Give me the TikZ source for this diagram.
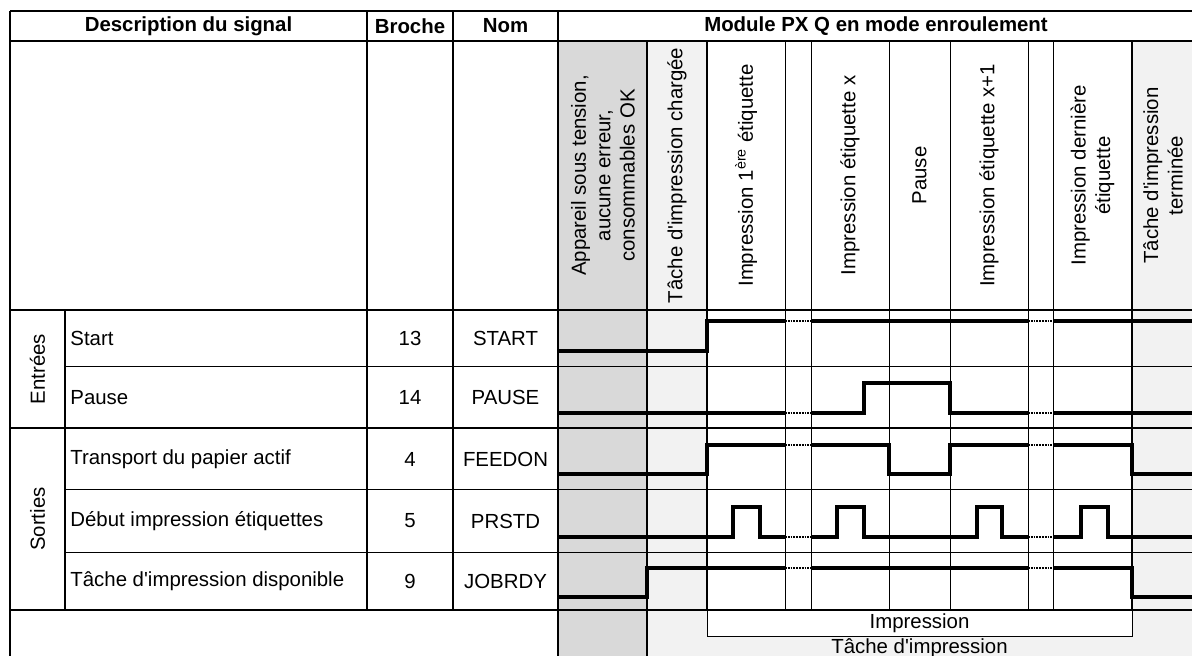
\documentclass[tikz,border=0pt]{standalone}
\usepackage{fontspec}
\setmainfont{Liberation Sans}

\begin{document}
\begin{tikzpicture}[x=0.5pt, y=-0.5pt,
  txt/.style={font=\fontsize{10.2}{12.2}\selectfont, inner sep=0pt},
  head/.style={txt, font=\fontsize{10.2}{12.2}\selectfont\bfseries},
  vtext/.style={txt, rotate=90, align=center},
  major/.style={line width=0.8pt},
  minor/.style={line width=0.5pt},
  signal/.style={line width=1.7pt, line join=miter},
  gap/.style={line width=1.2pt, dash pattern=on 0.9pt off 0.5pt}
]
  \useasboundingbox (0,0) rectangle (1192,656);
  \clip (0,0) rectangle (1192,656);

  % shaded columns
  \fill[black!5] (647,41) rectangle (1195,680);
  \fill[white] (707,41) rectangle (1132,636);
  \fill[black!15] (558,41) rectangle (647,680);

  % table lines
  \draw[major] (10,11) -- (1195,11) (10,41) -- (1195,41) (10,310) -- (1195,310)
    (10,428) -- (1195,428) (10,610) -- (1195,610);
  \draw[minor] (65,367) -- (1195,367) (65,490) -- (1195,490) (65,552) -- (1195,552);
  \draw[major] (10,11) -- (10,680) (558,11) -- (558,680) (647,41) -- (647,680);
  \draw[major] (367,11) -- (367,610) (453,11) -- (453,610) (65,310) -- (65,610);
  \draw[major] (707,41) -- (707,610) (1132,41) -- (1132,610);
  \foreach \x in {785,811,889,950,1028,1053}
    \draw[minor] (\x,41) -- (\x,610);
  \draw[minor] (707,610) rectangle (1132,636);

  % header
  \node[head] (desc) at (188.5,26) {Description du signal};
  \node[head] (broche) at (410,26) {Broche};
  \node[head] (nom) at (505.5,26) {Nom};
  \node[head] (module) at (876,26) {Module PX Q en mode enroulement};

  \node[vtext] (appareil) at (603,175.5) {Appareil sous tension,\\aucune erreur,\\consommables OK};
  \node[vtext] (chargee) at (677,175.5) {Tâche d\textquotesingle impression chargée};
  \node[vtext] (imp1) at (746,175.5) {Impression 1\textsuperscript{ère} étiquette};
  \node[vtext] (impx) at (850,175.5) {Impression étiquette x};
  \node[vtext] (pause) at (919.5,175.5) {Pause};
  \node[vtext] (impxp) at (989,175.5) {Impression étiquette x+1};
  \node[vtext] (derniere) at (1092.5,175.5) {Impression dernière\\étiquette};
  \node[vtext] (terminee) at (1163,175.5) {Tâche d\textquotesingle impression\\terminée};

  % signal names
  \node[vtext] (entrees) at (37.5,369) {Entrées};
  \node[vtext] (sorties) at (37.5,519) {Sorties};

  \node[txt, anchor=west] (start) at (70,338.5) {Start};
  \node[txt, anchor=west] (pausein) at (70,397.5) {Pause};
  \node[txt, anchor=west] (feed) at (70,459) {Transport du papier actif};
  \node[txt, anchor=west] (prstd) at (70,521) {Début impression étiquettes};
  \node[txt, anchor=west] (jobrdy) at (70,581) {Tâche d\textquotesingle impression disponible};

  \node[txt] (startpin) at (410,338.5) {13};
  \node[txt] (pausepin) at (410,397.5) {14};
  \node[txt] (feedpin) at (410,459) {4};
  \node[txt] (prstdpin) at (410,521) {5};
  \node[txt] (jobrdypin) at (410,581) {9};

  \node[txt] (startnom) at (505.5,338.5) {START};
  \node[txt] (pausenom) at (505.5,397.5) {PAUSE};
  \node[txt] (feednom) at (505.5,459) {FEEDON};
  \node[txt] (prstdnom) at (505.5,521) {PRSTD};
  \node[txt] (jobrdynom) at (505.5,581) {JOBRDY};

  % START
  \draw[signal] (558,351) -- (707,351) -- (707,321) -- (785,321);
  \draw[signal] (811,321) -- (1028,321);
  \draw[signal] (1053,321) -- (1195,321);
  % PAUSE
  \draw[signal] (558,413) -- (785,413);
  \draw[signal] (811,413) -- (864,413) -- (864,383) -- (950,383) -- (950,413) -- (1028,413);
  \draw[signal] (1053,413) -- (1195,413);
  % FEEDON
  \draw[signal] (558,474) -- (707,474) -- (707,445) -- (785,445);
  \draw[signal] (811,445) -- (889,445) -- (889,474) -- (950,474) -- (950,445) -- (1028,445);
  \draw[signal] (1053,445) -- (1132,445) -- (1132,474) -- (1195,474);
  % PRSTD
  \draw[signal] (558,537) -- (733,537) -- (733,507) -- (760,507) -- (760,537) -- (785,537);
  \draw[signal] (811,537) -- (837,537) -- (837,507) -- (864,507) -- (864,537)
    -- (977,537) -- (977,507) -- (1002,507) -- (1002,537) -- (1028,537);
  \draw[signal] (1053,537) -- (1081,537) -- (1081,507) -- (1108,507) -- (1108,537) -- (1195,537);
  % JOBRDY
  \draw[signal] (558,597) -- (647,597) -- (647,568) -- (785,568);
  \draw[signal] (811,568) -- (1028,568);
  \draw[signal] (1053,568) -- (1132,568) -- (1132,597) -- (1195,597);

  % skipped labels
  \foreach \y in {321,413,445,537,568} {
    \draw[gap] (785,\y) -- (811,\y);
    \draw[gap] (1028,\y) -- (1053,\y);
  }

  % phases
  \node[txt] (impression) at (919.5,623) {Impression};
  \node[txt] (tache) at (919.5,648) {Tâche d\textquotesingle impression};
\end{tikzpicture}
\end{document}
